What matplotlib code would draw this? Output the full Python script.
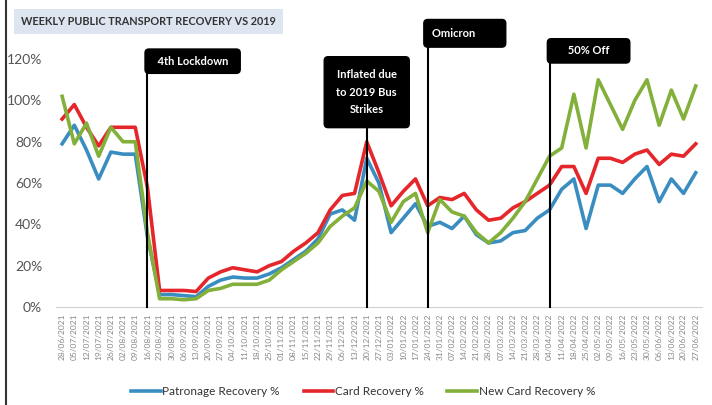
import matplotlib
matplotlib.use("Agg")
import matplotlib.pyplot as plt
from matplotlib.lines import Line2D

plt.rcParams['font.family'] = ['Lato', 'DejaVu Sans']

weeks = ["28/06/2021", "05/07/2021", "12/07/2021", "19/07/2021", "26/07/2021",
         "02/08/2021", "09/08/2021", "16/08/2021", "23/08/2021", "30/08/2021",
         "06/09/2021", "13/09/2021", "20/09/2021", "27/09/2021", "04/10/2021",
         "11/10/2021", "18/10/2021", "25/10/2021", "01/11/2021", "08/11/2021",
         "15/11/2021", "22/11/2021", "29/11/2021", "06/12/2021", "13/12/2021",
         "20/12/2021", "27/12/2021", "03/01/2022", "10/01/2022", "17/01/2022",
         "24/01/2022", "31/01/2022", "07/02/2022", "14/02/2022", "21/02/2022",
         "28/02/2022", "07/03/2022", "14/03/2022", "21/03/2022", "28/03/2022",
         "04/04/2022", "11/04/2022", "18/04/2022", "25/04/2022", "02/05/2022",
         "09/05/2022", "16/05/2022", "23/05/2022", "30/05/2022", "06/06/2022",
         "13/06/2022", "20/06/2022", "27/06/2022"]

patronage = [79, 88, 76, 62, 75, 74, 74, 34, 6, 6, 5.5, 5, 10, 13, 14.5, 14, 14, 16,
             19, 23, 27, 33, 45, 47, 42, 72, 60, 36, 43, 50, 39, 41, 38, 44, 35, 31,
             32, 36, 37, 43, 47, 57, 62, 38, 59, 59, 55, 62, 68, 51, 62, 55, 65]
card = [91, 98, 87, 78, 87, 87, 87, 58, 8, 8, 8, 7.5, 14, 17, 19, 18, 17, 20,
        22, 27, 31, 36, 47, 54, 55, 80, 65, 49, 56, 62, 49, 53, 52, 55, 47, 42,
        43, 48, 51, 55, 59, 68, 68, 55, 72, 72, 70, 74, 76, 69, 74, 73, 79]
new_card = [102, 79, 89, 73, 87, 80, 80, 36, 4, 4, 3.5, 4, 8, 9, 11, 11, 11, 13,
            18, 22, 26, 31, 39, 44, 48, 61, 56, 41, 51, 55, 36, 52, 46, 44, 36, 31,
            36, 43, 51, 62, 73, 77, 103, 77, 110, 98, 86, 100, 110, 88, 105, 91, 107]

series_names = ["Patronage Recovery %", "Card Recovery %", "New Card Recovery %"]
series_colors = ["#3A8DC1", "#E5262B", "#82B03A"]

event_weeks = ["16/08/2021", "20/12/2021", "24/01/2022", "04/04/2022"]
event_labels = ["  4th Lockdown  ", "Inflated due\nto 2019 Bus\nStrikes",
                "Omicron        ", "     50% Off     "]

fig = plt.figure(figsize=(7.12, 4.05), dpi=100)
ax = fig.add_axes([0.0787, 0.242, 0.907, 0.612])

x = list(range(len(weeks)))
for vals, name, col in zip([patronage, card, new_card], series_names, series_colors):
    ax.plot(x, vals, color=col, lw=2.6, label=name, zorder=3)

ax.set_xlim(-0.5, len(weeks) - 0.5)
ax.set_ylim(0, 120)
ax.set_yticks(range(0, 121, 20))
ax.set_yticklabels([f"{v}%" for v in range(0, 121, 20)], fontsize=10, color="#555555")
ax.set_xticks(x)
ax.set_xticklabels(weeks, rotation=90, fontsize=6, color="#888888")
for s in ["top", "right", "left"]:
    ax.spines[s].set_visible(False)
ax.spines["bottom"].set_color("#D0D0D0")
ax.tick_params(axis="y", length=0, pad=10)
ax.tick_params(axis="x", length=0, pad=5)

# event markers: box centre height (data units), alignment, x offset, padding
box_y = [119, 104, 132.5, 124]
box_ha = ["left", "center", "left", "left"]
box_dx = [0.35, 0, 0.37, 0.37]
box_pad = [0.6, 1.1, 0.75, 0.6]
for wk, lab, by, ha, dx, pd in zip(event_weeks, event_labels, box_y, box_ha, box_dx, box_pad):
    i = weeks.index(wk)
    ax.plot([i, i], [0, by], color="black", lw=1.5, clip_on=False, zorder=4)
    ax.text(i + dx, by, lab, ha=ha, va="center", color="white", fontsize=8,
            fontweight="bold", linespacing=1.75, zorder=6, clip_on=False,
            bbox=dict(boxstyle=f"round,pad={pd},rounding_size=0.35", fc="black", ec="black"))

fig.text(0.03, 0.948, "WEEKLY PUBLIC TRANSPORT RECOVERY VS 2019", fontsize=7.8,
         fontweight="bold", color="#333333", va="center", ha="left",
         bbox=dict(boxstyle="square,pad=0.65", fc="#DDE6F0", ec="none"))

fig.add_artist(Line2D([0.008, 0.008], [0, 1], color="#333333", lw=1.5))

handles = [Line2D([], [], color=c, lw=2.6) for c in series_colors]
fig.legend(handles, series_names, loc="center", bbox_to_anchor=(0.51, 0.033),
           ncol=3, frameon=False, fontsize=8.5, handlelength=2.5, handletextpad=0.15,
           columnspacing=2.0, labelcolor="#333333")

fig.savefig("out.png", dpi=100)
